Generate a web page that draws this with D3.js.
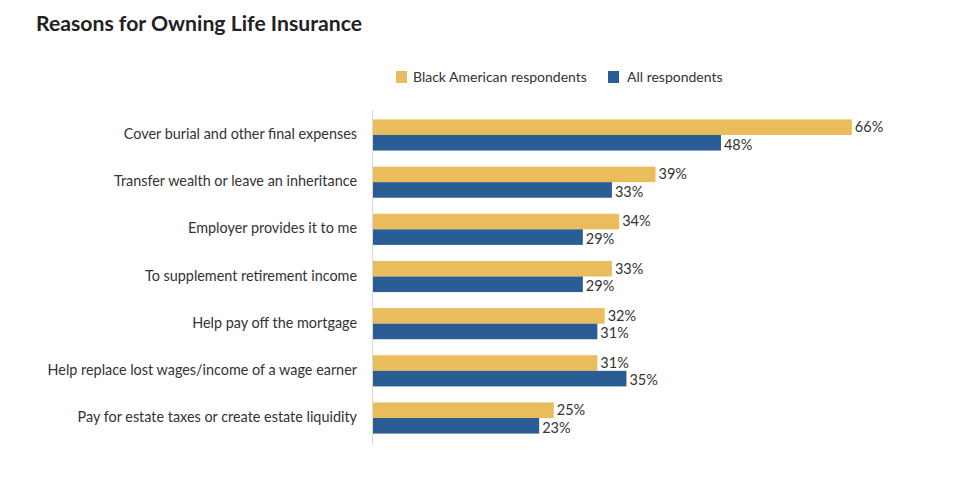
<!DOCTYPE html>
<html><head><meta charset="utf-8">
<script src="https://cdn.jsdelivr.net/npm/d3@7"></script>
<style>body{margin:0;background:#fff;} svg{display:block;font-family:Lato,"Open Sans",sans-serif;}</style>
</head><body>
<svg id="c" width="960" height="484"></svg>
<script>
const categories = [
  "Cover burial and other final expenses",
  "Transfer wealth or leave an inheritance",
  "Employer provides it to me",
  "To supplement retirement income",
  "Help pay off the mortgage",
  "Help replace lost wages/income of a wage earner",
  "Pay for estate taxes or create estate liquidity"
];
const blackAmerican = [66, 39, 34, 33, 32, 31, 25];
const allRespondents = [48, 33, 29, 29, 31, 35, 23];
const seriesNames = ["Black American respondents", "All respondents"];
const colors = ["#E9BD5B", "#2A5D94"];

const svg = d3.select("#c");
const x = d3.scaleLinear().domain([0, 100]).range([372, 1099]);
const y = d3.scaleBand().domain(categories).range([111.4, 441.6]).paddingInner(0.34).paddingOuter(0.17);
const sub = d3.scaleBand().domain([0, 1]).range([0, y.bandwidth()]);

svg.append("text").attr("x", 36).attr("y", 31).attr("font-size", 21.2).attr("font-weight", 700)
  .attr("fill", "#222").text("Reasons for Owning Life Insurance");

// legend
const leg = [{x: 396, tx: 413}, {x: 608, tx: 627}];
seriesNames.forEach((n, i) => {
  svg.append("rect").attr("x", leg[i].x).attr("y", 71).attr("width", 11).attr("height", 12).attr("fill", colors[i]);
  svg.append("text").attr("x", leg[i].tx).attr("y", 82).attr("font-size", 14).attr("fill", "#333").text(n);
});

// axis line
svg.append("line").attr("x1", 372.5).attr("x2", 372.5).attr("y1", 110).attr("y2", 445)
  .attr("stroke", "#d9d9d9").attr("stroke-width", 1);

const series = [blackAmerican, allRespondents];
const labelOffset = [4.8, 6.8];
series.forEach((vals, si) => {
  const g = svg.append("g");
  g.selectAll("rect").data(vals).join("rect")
    .attr("x", x(0) + 1)
    .attr("y", (d, i) => y(categories[i]) + sub(si))
    .attr("width", d => x(d) - x(0) - 1)
    .attr("height", sub.bandwidth())
    .attr("fill", colors[si]);
  g.selectAll("text").data(vals).join("text")
    .attr("x", d => x(d) + 3)
    .attr("y", (d, i) => y(categories[i]) + sub(si) + sub.bandwidth() / 2 + labelOffset[si])
    .attr("font-size", 14.5).attr("fill", "#333")
    .text(d => d + "%");
});

// category labels
svg.append("g").selectAll("text").data(categories).join("text")
  .attr("x", 357).attr("text-anchor", "end")
  .attr("y", d => y(d) + y.bandwidth() / 2 + 4)
  .attr("font-size", 14.4).attr("fill", "#333")
  .text(d => d);
</script>
</body></html>
